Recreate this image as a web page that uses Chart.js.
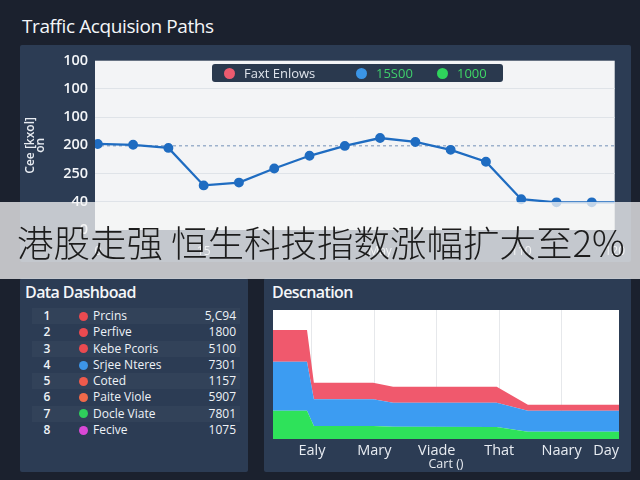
<!DOCTYPE html>
<html lang="en">
<head>
<meta charset="UTF-8">
<meta name="viewport" content="width=device-width, initial-scale=1.0">
<title>traffic acquisition paths</title>
<script src="https://cdn.jsdelivr.net/npm/chart.js@4.4.1/dist/chart.umd.min.js"></script>
<style>
  body {
    margin: 0;
    width: 640px;
    height: 480px;
    overflow: hidden;
    position: relative;
    background: #1b212e;
    font-family: "Open Sans", "Noto Sans", sans-serif;
    color: #eef2f7;
  }
  .panel { position: absolute; background: #2c3c54; border-radius: 2px; }
  #title { position: absolute; left: 22px; top: 13px; font-size: 19px; font-weight: 500; letter-spacing: -0.4px; color: #f4f6f9; }
  .ptitle { position: absolute; font-size: 16px; font-weight: 600; letter-spacing: -0.6px; color: #f4f6f9; }
  canvas { position: absolute; }
  #legend {
    position: absolute; left: 212px; top: 64px; width: 291px; height: 18px;
    background: #2a394e; border-radius: 3px; display: flex; align-items: center;
    font-size: 13px; line-height: 18px;
  }
  #legend span.item { display: flex; align-items: center; }
  #legend i { display: inline-block; width: 11px; height: 11px; border-radius: 50%; margin-right: 9px; }
  #table { position: absolute; left: 32px; top: 308px; width: 208px; font-size: 12px; }
  #table .row { height: 16.3px; line-height: 16.3px; display: flex; align-items: center; position: relative; }
  #table .row:nth-child(odd) { background: rgba(255,255,255,0.03); }
  #table .num { width: 30px; text-align: center; font-weight: 600; }
  #table .dot { width: 9px; height: 9px; border-radius: 50%; margin-left: 17px; margin-right: 5px; }
  #table .val { position: absolute; right: 4px; }
  #banner {
    position: absolute; left: 0; top: 202px; width: 640px; height: 77px;
    background: rgba(245,245,245,0.76);
    font-family: "Noto Sans CJK SC", sans-serif; font-size: 36.5px; font-weight: 300;
    letter-spacing: 0; color: #1c1c1c;
    line-height: 79px; padding-left: 17px; box-sizing: border-box; white-space: nowrap;
  }
</style>
</head>
<body>
  <div id="title">Traffic Acquision Paths</div>
  <div class="panel" style="left:20px;top:45px;width:611px;height:217px"></div>
  <div class="panel" style="left:20px;top:278px;width:228px;height:194px"></div>
  <div class="panel" style="left:264px;top:278px;width:367px;height:194px"></div>

  <canvas id="lineChart" width="611" height="217" style="left:20px;top:45px"></canvas>
  <div id="legend"></div>

  <div class="ptitle" style="left:25px;top:281px">Data Dashboad</div>
  <div id="table"></div>

  <div class="ptitle" style="left:272px;top:281px">Descnation</div>
  <canvas id="areaChart" width="367" height="194" style="left:264px;top:278px"></canvas>

  <div id="banner">港股走强 恒生科技指数涨幅扩大至2%</div>

<script>
  // line chart (top)
  const pathValues = [3.05, 3.02, 2.91, 1.58, 1.68, 2.18, 2.63, 2.98, 3.26, 3.12, 2.84, 2.42, 1.09, 0.98, 0.98, 0.98]
  const pathYTickLabels = ['0', '40', '250', '200', '100', '100', '100']
  const pathXTicks = [0, 3, 8, 12]
  const pathXTickLabels = ['0', '15', 'May', '110', '120']
  const legendNames = ['Faxt Enlows', '15S00', '1000']

  // dashboard table
  const rowNames = ['Prcins', 'Perfive', 'Kebe Pcoris', 'Srjee Nteres', 'Coted', 'Paite Viole', 'Docle Viate', 'Fecive']
  const rowValues = ['5,C94', '1800', '5100', '7301', '1157', '5907', '7801', '1075']

  // stacked area (bottom right)
  const areaCats = ['Ealy', 'Mary', 'Viade', 'That', 'Naary', 'Day']
  const areaX = [-0.625, -0.08, 0.03, 0.98, 1.3, 2.96, 3.46, 4.92]
  const greenVals = [21.9, 21.9, 10.1, 10.0, 9.5, 9.3, 5.7, 5.7]
  const blueVals = [38.0, 38.0, 20.7, 20.8, 18.6, 18.8, 16.2, 16.2]
  const redVals = [24.6, 24.6, 12.8, 12.8, 12.4, 12.4, 4.7, 4.7]

  const legendDots = ['#ec5b6f', '#3b95e6', '#2fd45c']
  const legendText = ['#dfe4ec', '#3fcf6c', '#3fd865']
  const rowDots = ['#ea4a50', '#ea4a50', '#ea4a50', '#3d95e8', '#ee5a4c', '#f06a4a', '#2fcf5c', '#d948d6']

  Chart.defaults.font.family = '"Open Sans", "Noto Sans", sans-serif'
  Chart.defaults.animation = false

  const plotBg = {
    id: 'plotBg',
    beforeDraw(chart, args, opts) {
      const a = chart.chartArea
      chart.ctx.save()
      chart.ctx.fillStyle = opts.color
      chart.ctx.fillRect(a.left, a.top, a.right - a.left, a.bottom - a.top)
      chart.ctx.restore()
    }
  }

  // legend
  const legendEl = document.getElementById('legend')
  const legendWidths = [132, 81, 66]
  legendNames.forEach((name, i) => {
    const s = document.createElement('span')
    s.className = 'item'
    s.style.width = legendWidths[i] + 'px'
    if (i === 0) s.style.marginLeft = '12px'
    s.innerHTML = `<i style="background:${legendDots[i]}"></i><span style="color:${legendText[i]}">${name}</span>`
    legendEl.appendChild(s)
  })

  // table
  const tableEl = document.getElementById('table')
  rowNames.forEach((name, i) => {
    const r = document.createElement('div')
    r.className = 'row'
    r.innerHTML = `<span class="num">${i + 1}</span><span class="dot" style="background:${rowDots[i]}"></span><span>${name}</span><span class="val">${rowValues[i]}</span>`
    tableEl.appendChild(r)
  })

  new Chart(document.getElementById('lineChart'), {
    type: 'line',
    data: {
      datasets: [{
        label: legendNames[1],
        data: pathValues.map((v, i) => ({ x: i, y: v })),
        borderColor: '#1f6cc1',
        backgroundColor: '#1f6cc1',
        borderWidth: 2.3,
        pointRadius: 3.8,
        pointHoverRadius: 3.8,
        tension: 0
      }]
    },
    options: {
      responsive: false,
      devicePixelRatio: 1,
      layout: { padding: { top: 14, right: 13, left: 0, bottom: 0 } },
      plugins: { legend: { display: false }, tooltip: { enabled: false }, plotBg: { color: '#f3f4f6' } },
      scales: {
        x: {
          type: 'linear',
          min: -0.08,
          max: 14.65,
          afterBuildTicks: s => { s.ticks = pathXTicks.concat([14.65]).map(v => ({ value: v })) },
          afterFit: s => { s.height = 32 },
          grid: { display: false },
          border: { display: false },
          ticks: {
            color: '#eef2f7', font: { size: 12 }, padding: 6, autoSkip: false, maxRotation: 0,
            callback: (v, i) => pathXTickLabels[i]
          }
        },
        y: {
          min: 0,
          max: 6,
          afterFit: s => { s.width = 75 },
          border: { display: false, dash: c => c.tick && c.tick.value === 3 ? [3, 3] : [] },
          grid: {
            drawTicks: false,
            color: c => c.tick.value === 3 ? '#9db1cc' : (c.tick.value === 6 || c.tick.value === 0 ? 'rgba(0,0,0,0)' : '#dfe3e8'),
            lineWidth: c => c.tick.value === 3 ? 1.5 : 1
          },
          ticks: {
            stepSize: 1, padding: 7, color: '#f4f6f9', font: { size: 14.5, weight: '600' },
            callback: v => pathYTickLabels[v]
          },
          title: {
            display: true, text: ['Cee [kxol]', 'on'], color: '#e8ecf2',
            font: { size: 12, weight: '600', lineHeight: 0.8 }, padding: { top: 6, bottom: 0 }
          }
        }
      }
    },
    plugins: [plotBg]
  })

  const toPts = vals => vals.map((v, i) => ({ x: areaX[i], y: v }))
  const areaStyle = { borderWidth: 0, pointRadius: 0, tension: 0 }

  new Chart(document.getElementById('areaChart'), {
    type: 'line',
    data: {
      datasets: [
        { ...areaStyle, data: toPts(greenVals), backgroundColor: '#2ee25a', fill: 'origin' },
        { ...areaStyle, data: toPts(blueVals), backgroundColor: '#3c9cf2', fill: '-1' },
        { ...areaStyle, data: toPts(redVals), backgroundColor: '#f0596d', fill: '-1' }
      ]
    },
    options: {
      responsive: false,
      devicePixelRatio: 1,
      layout: { padding: { top: 32, right: 12, left: 9, bottom: 0 } },
      plugins: { legend: { display: false }, tooltip: { enabled: false }, plotBg: { color: '#ffffff' } },
      scales: {
        x: {
          type: 'linear',
          min: areaX[0],
          max: areaX[areaX.length - 1],
          afterBuildTicks: s => {
            s.ticks = [s.min, 0, 1, 2, 3, 4, s.max].map(v => ({ value: v }))
          },
          afterFit: s => { s.height = 33 },
          border: { display: false },
          grid: {
            drawTicks: false,
            color: c => (c.index === 0 || c.index === 6) ? 'rgba(0,0,0,0)' : '#e6e8eb'
          },
          ticks: {
            align: 'inner', padding: 3, color: '#e8ecf2', font: { size: 14.5 },
            autoSkip: false, maxRotation: 0,
            callback: (v, i) => i === 0 ? '' : areaCats[i - 1]
          },
          title: { display: true, text: 'Cart ()', color: '#e8ecf2', font: { size: 12.5 }, padding: { top: 0, bottom: 0 } }
        },
        y: {
          stacked: true,
          min: 0,
          max: 100,
          display: false
        }
      }
    },
    plugins: [plotBg]
  })
</script>
</body>
</html>
